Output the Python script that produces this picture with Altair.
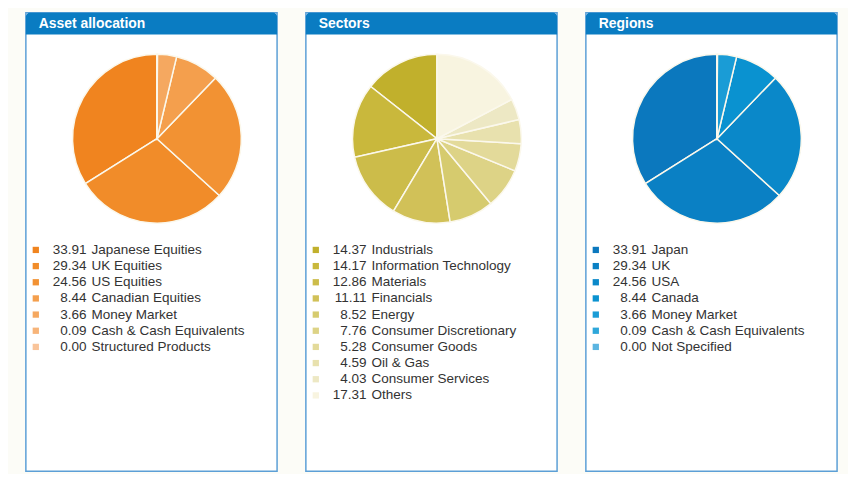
import altair as alt
import pandas as pd

# ---- data ----
asset_names = ["Japanese Equities", "UK Equities", "US Equities", "Canadian Equities",
               "Money Market", "Cash & Cash Equivalents", "Structured Products"]
asset_values = [33.91, 29.34, 24.56, 8.44, 3.66, 0.09, 0.00]
asset_colors = ["#F0841F", "#F18C29", "#F29233", "#F49F4D", "#F5A860", "#F7B479", "#F9C49A"]

sector_names = ["Industrials", "Information Technology", "Materials", "Financials", "Energy",
                "Consumer Discretionary", "Consumer Goods", "Oil & Gas", "Consumer Services", "Others"]
sector_values = [14.37, 14.17, 12.86, 11.11, 8.52, 7.76, 5.28, 4.59, 4.03, 17.31]
sector_colors = ["#C1B02C", "#C9B83C", "#CCBC4A", "#D1C158", "#D6CB6E", "#DDD386", "#E3DA9A",
                 "#E8E1AE", "#EDE8C4", "#F8F4E0"]

region_names = ["Japan", "UK", "USA", "Canada", "Money Market", "Cash & Cash Equivalents", "Not Specified"]
region_values = [33.91, 29.34, 24.56, 8.44, 3.66, 0.09, 0.00]
region_colors = ["#0B78BE", "#0A80C4", "#0A88C9", "#0A92D0", "#1A9CD6", "#2EA7DA", "#5BB5E1"]

titles = ["Asset allocation", "Sectors", "Regions"]

PANEL_W = 253
PANEL_H = 462
HEADER_BLUE = "#0A7CC2"
FONT = "Liberation Sans"


def panel(title, names, values, colors):
    df = pd.DataFrame({"name": names, "value": values, "rank": list(range(len(names)))})
    color = alt.Color("name:N", scale=alt.Scale(domain=names, range=colors), legend=None)

    header = alt.Chart(pd.DataFrame({"t": [title]})).mark_rect(
        color=HEADER_BLUE, cornerRadiusTopLeft=4, cornerRadiusTopRight=4
    ).encode(x=alt.value(0), x2=alt.value(PANEL_W), y=alt.value(0), y2=alt.value(22))

    header_text = alt.Chart(pd.DataFrame({"t": [title]})).mark_text(
        align="left", baseline="middle", font=FONT, fontSize=14, fontWeight="bold", color="white"
    ).encode(x=alt.value(13), y=alt.value(11), text="t:N")

    pie = alt.Chart(df).mark_arc(
        outerRadius=85, stroke="#FBF8EC", strokeWidth=1.5
    ).encode(
        theta=alt.Theta("value:Q", stack=True),
        order=alt.Order("rank:Q", sort="descending"),
        color=color,
        x=alt.value(132),
        y=alt.value(127),
    )

    yenc = alt.Y("rank:Q", scale=alt.Scale(domain=[0, 9], range=[239, 385.5]), axis=None)

    squares = alt.Chart(df).mark_square(size=40, opacity=1).encode(
        x=alt.value(10), y=yenc, color=color
    )
    nums = alt.Chart(df).mark_text(
        align="right", baseline="middle", font=FONT, fontSize=13.6, color="#333333"
    ).encode(x=alt.value(61), y=yenc, text=alt.Text("value:Q", format=".2f"))
    labels = alt.Chart(df).mark_text(
        align="left", baseline="middle", font=FONT, fontSize=13.6, color="#333333"
    ).encode(x=alt.value(66), y=yenc, text="name:N")

    return alt.layer(pie, squares, nums, labels, header, header_text).properties(
        width=PANEL_W, height=PANEL_H
    )


chart = alt.hconcat(
    panel(titles[0], asset_names, asset_values, asset_colors),
    panel(titles[1], sector_names, sector_values, sector_colors),
    panel(titles[2], region_names, region_values, region_colors),
    spacing=27,
).resolve_scale(
    color="independent", y="independent"
).properties(
    padding={"left": 17, "top": 2, "right": 10, "bottom": 0},
    background="#FCFCF7",
).configure_view(
    stroke="#5C9FD6", strokeWidth=1.5, fill="white"
)

chart.save("out.html", embed_options={"renderer": "svg", "actions": False})
